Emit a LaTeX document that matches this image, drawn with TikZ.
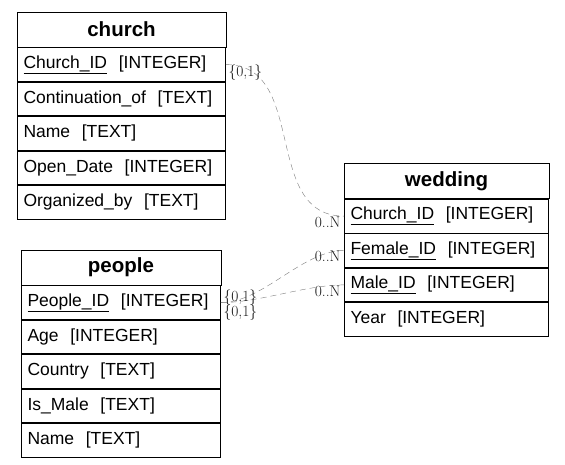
\documentclass[tikz,border=0pt]{standalone}
\usepackage{fontspec}
\setsansfont{Liberation Sans}
\usepackage{tikz}
\usetikzlibrary{positioning}
\definecolor{edgegray}{RGB}{125,125,125}

\begin{document}
\begin{tikzpicture}[x=1pt,y=-1pt,
  title/.style={draw,thick,minimum width=#1,minimum height=35pt,inner sep=0pt,font=\sffamily\bfseries\fontsize{20.5}{24}\selectfont},
  field/.style={draw,thick,text width=#1,align=left,minimum height=33.6pt,inner xsep=6pt,inner ysep=0pt,font=\sffamily\fontsize{17.5}{20}\selectfont},
  rel/.style={edgegray,thin,dash pattern=on 6pt off 4pt},
  card/.style={inner sep=0.5pt,font=\fontsize{15.5}{17}\selectfont,text=black!90},
  node distance=0pt
]
\useasboundingbox (0,0) rectangle (565,464);
\node[title=209pt] (church) at (121.5,29.5) {church};
\node[field=196pt,below=of church] (church-id) {\underline{Church\_ID}\ \ [INTEGER]};
\node[field=196pt,below=of church-id] (church-cont) {Continuation\_of\ \ [TEXT]};
\node[field=196pt,below=of church-cont] (church-name) {Name\ \ [TEXT]};
\node[field=196pt,below=of church-name] (church-date) {Open\_Date\ \ [INTEGER]};
\node[field=196pt,below=of church-date] (church-org) {Organized\_by\ \ [TEXT]};

\node[title=205pt] (wedding) at (446.5,181) {wedding};
\node[field=192pt,below=of wedding] (wedding-church) {\underline{Church\_ID}\ \ [INTEGER]};
\node[field=192pt,below=of wedding-church] (wedding-female) {\underline{Female\_ID}\ \ [INTEGER]};
\node[field=192pt,below=of wedding-female] (wedding-male) {\underline{Male\_ID}\ \ [INTEGER]};
\node[field=192pt,below=of wedding-male] (wedding-year) {Year\ \ [INTEGER]};

\node[title=200pt] (people) at (121,267.5) {people};
\node[field=187pt,below=of people] (people-id) {\underline{People\_ID}\ \ [INTEGER]};
\node[field=187pt,below=of people-id] (people-age) {Age\ \ [INTEGER]};
\node[field=187pt,below=of people-age] (people-country) {Country\ \ [TEXT]};
\node[field=187pt,below=of people-country] (people-male) {Is\_Male\ \ [TEXT]};
\node[field=187pt,below=of people-male] (people-name) {Name\ \ [TEXT]};

\draw[rel] (church-id.east) to[out=0,in=180,looseness=1.1] (wedding-church.west);
\draw[rel] (people-id.east) to[out=0,in=180,looseness=0.8] (wedding-female.west);
\draw[rel] (people-id.east) to[out=0,in=180,looseness=0.8] (wedding-male.west);

\node[card,anchor=north west] at ([xshift=2pt]church-id.east) {\{0,1\}};
\node[card,anchor=west] at ([xshift=2pt,yshift=5pt]people-id.east) {\{0,1\}};
\node[card,anchor=west] at ([xshift=2pt,yshift=-10pt]people-id.east) {\{0,1\}};
\node[card,anchor=north east] at ([xshift=-3pt]wedding-church.west) {0..N};
\node[card,anchor=north east] at ([xshift=-3pt]wedding-female.west) {0..N};
\node[card,anchor=north east] at ([xshift=-3pt]wedding-male.west) {0..N};
\end{tikzpicture}
\end{document}
